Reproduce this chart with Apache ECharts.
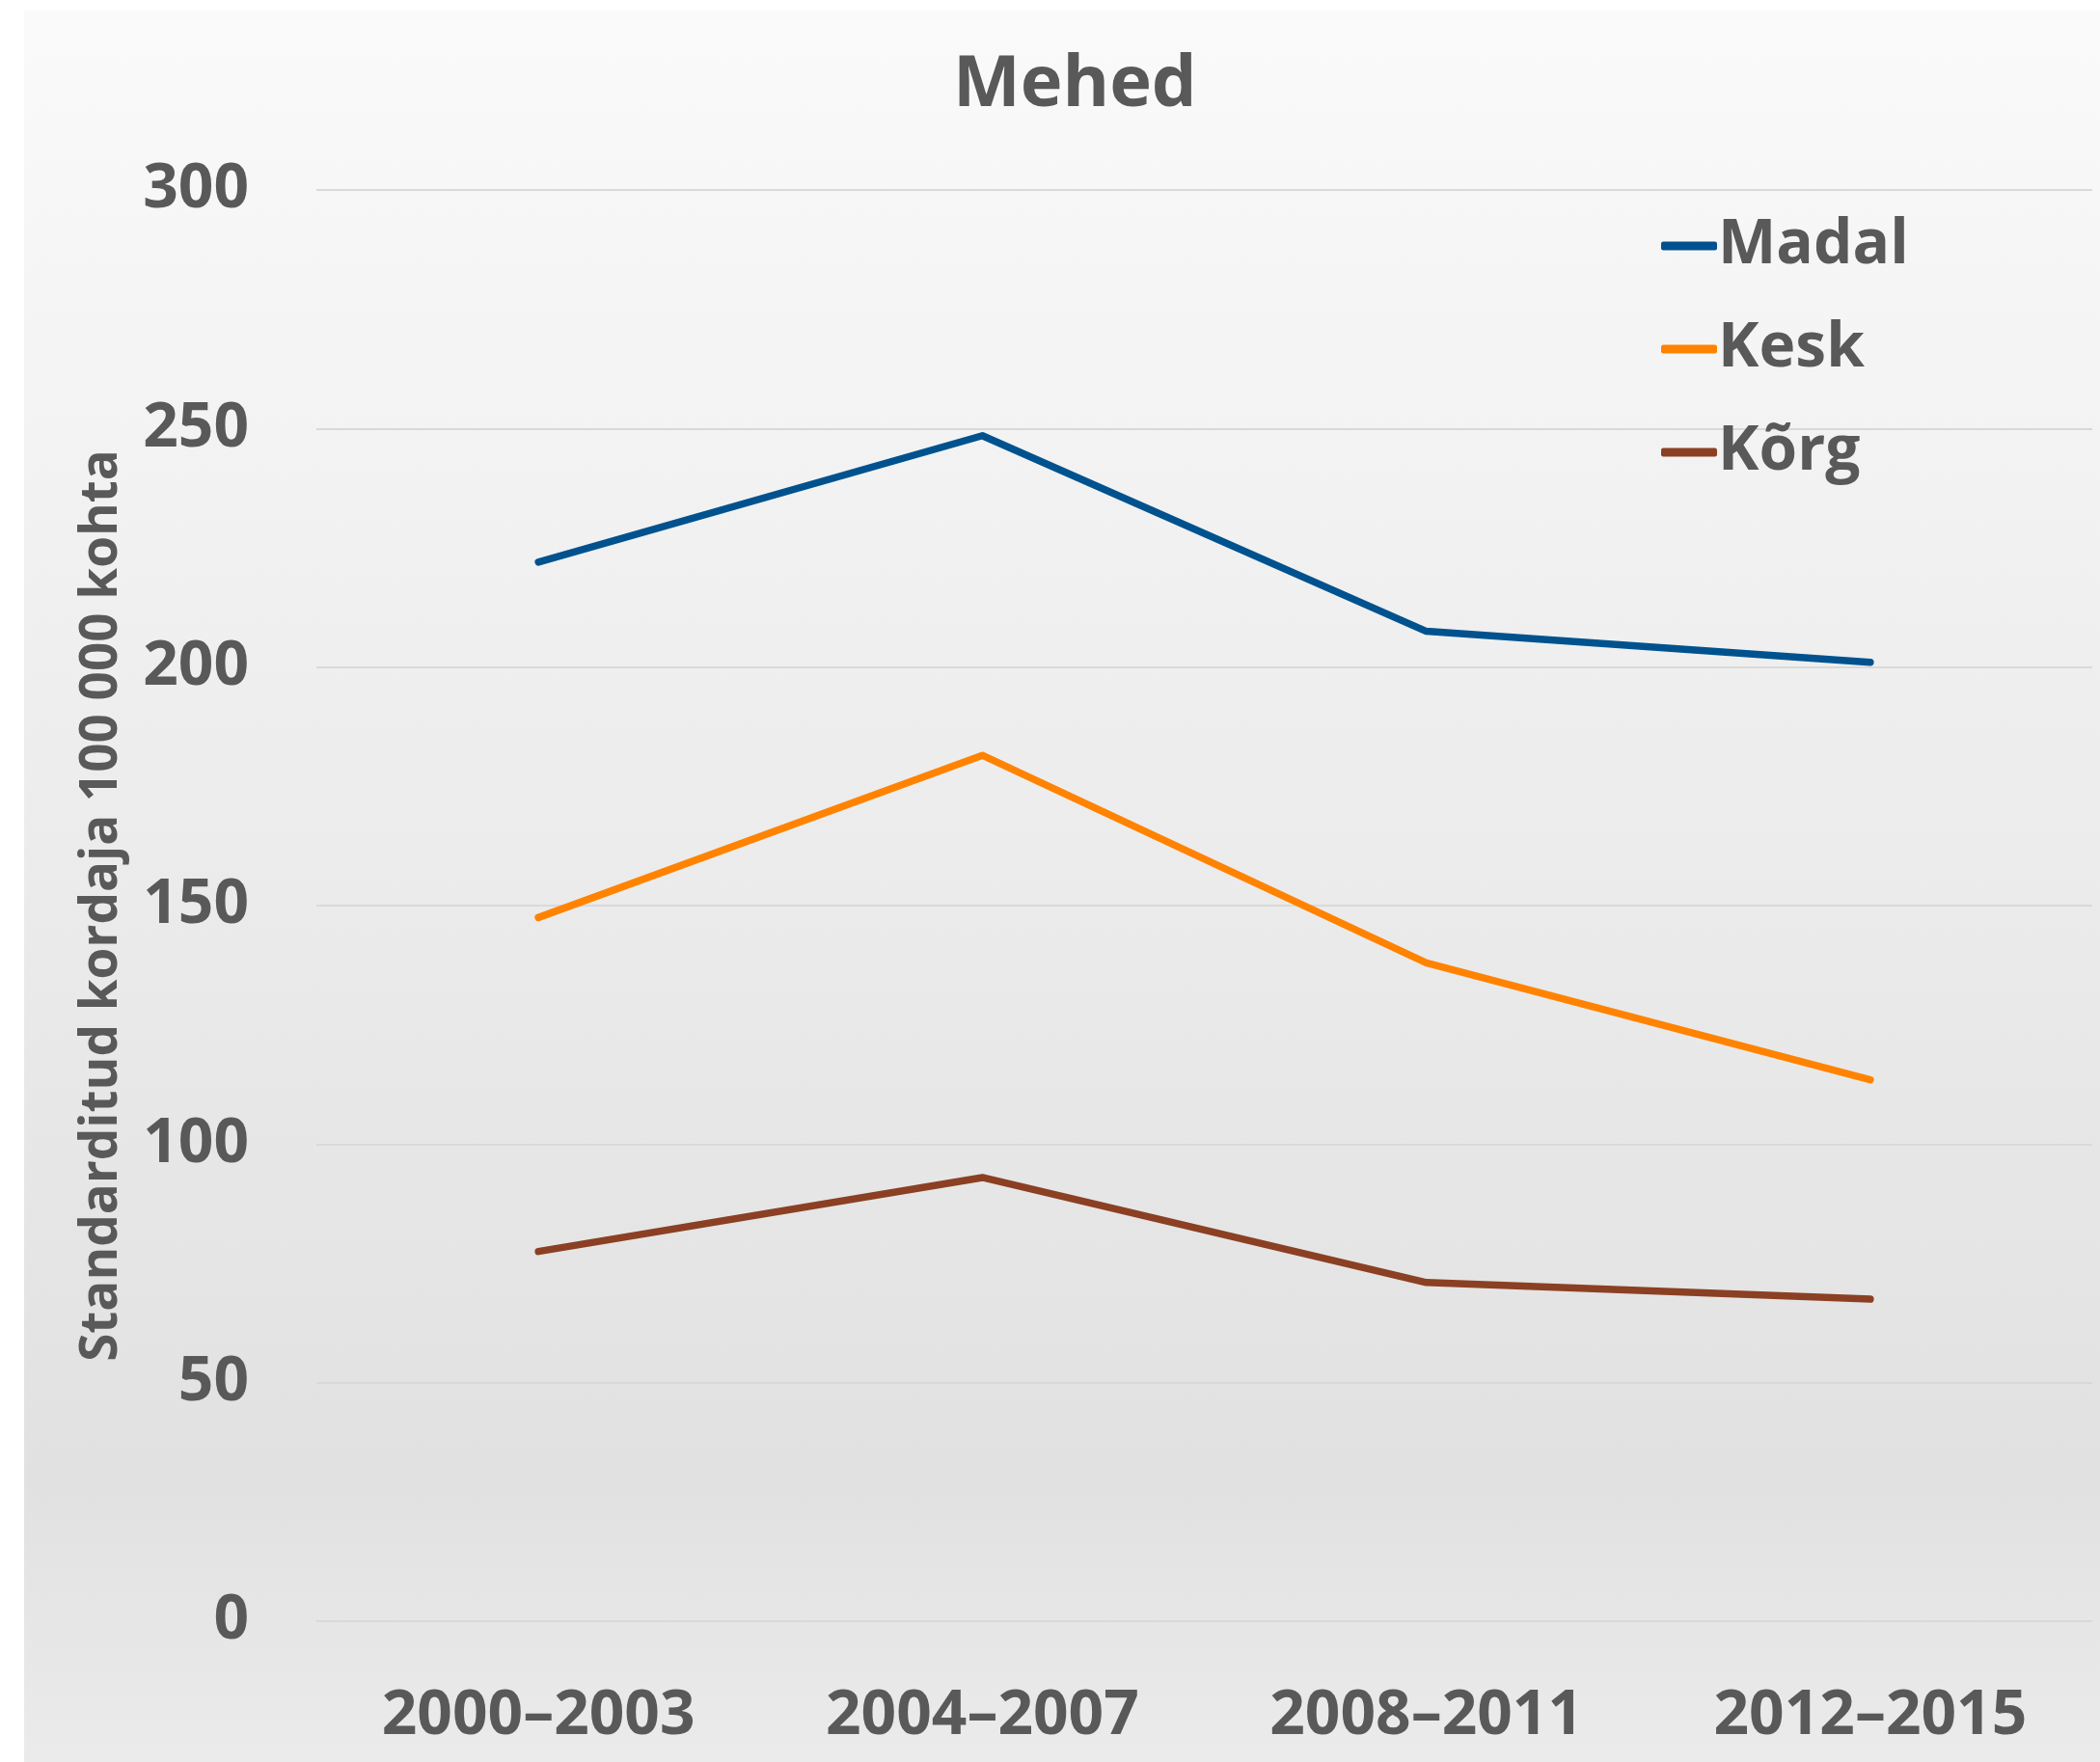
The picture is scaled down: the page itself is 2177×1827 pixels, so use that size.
<!DOCTYPE html>
<html>
<head>
<meta charset="utf-8">
<script src="https://cdn.jsdelivr.net/npm/echarts@6/dist/echarts.min.js"></script>
<style>
  html, body { margin: 0; padding: 0; background: #ffffff; }
  #chart { position: absolute; left: 25px; top: 11px; width: 2152px; height: 1816px; }
</style>
</head>
<body>
<div id="chart"></div>
<script>
const periods = ['2000–2003', '2004–2007', '2008–2011', '2012–2015']
const madal = [222, 248.5, 207.5, 201]
const kesk = [147.5, 181.5, 138, 113.5]
const korg = [77.5, 93, 71, 67.5]
const seriesNames = ['Madal', 'Kesk', 'Kõrg']
const seriesColors = ['#00528f', '#ff8300', '#8b4023']

const font = '"Open Sans", "Noto Sans", sans-serif'
const textColor = '#595959'

const chart = echarts.init(document.getElementById('chart'))

function lineSeries(name, data, color) {
  return {
    name,
    type: 'line',
    data,
    showSymbol: false,
    symbol: 'none',
    lineStyle: { color, width: 7.5, cap: 'round', join: 'round' },
    itemStyle: { color },
    animation: false,
  }
}

chart.setOption({
  animation: false,
  backgroundColor: new echarts.graphic.LinearGradient(0, 0, 0, 1, [
    { offset: 0, color: '#fafafa' },
    { offset: 0.84, color: '#e1e1e1' },
    { offset: 1, color: '#ebebeb' },
  ]),
  title: {
    text: 'Mehed',
    left: 958,
    top: 36,
    textStyle: { color: textColor, fontSize: 74, fontWeight: 'bold', fontFamily: font },
  },
  legend: {
    orient: 'vertical',
    left: 1692,
    top: 207,
    itemWidth: 58,
    itemHeight: 9,
    itemGap: 43,
    icon: 'roundRect',
    data: seriesNames,
    textStyle: { color: textColor, fontSize: 64, fontWeight: 'bold', fontFamily: font, padding: [0, 0, 0, -4] },
  },
  grid: { left: 303, right: 8, top: 186, bottom: 146 },
  xAxis: {
    type: 'category',
    data: periods,
    axisLine: { show: false },
    axisTick: { show: false },
    axisLabel: { color: textColor, fontSize: 64, fontWeight: 'bold', fontFamily: font, margin: 67 },
  },
  yAxis: {
    type: 'value',
    min: 0,
    max: 300,
    interval: 50,
    name: 'Standarditud kordaja 100 000 kohta',
    nameLocation: 'middle',
    nameGap: 196,
    nameTextStyle: { color: textColor, fontSize: 53, fontWeight: 'bold', fontFamily: font },
    axisLine: { show: false },
    axisTick: { show: false },
    axisLabel: { color: textColor, fontSize: 64, fontWeight: 'bold', fontFamily: font, margin: 70 },
    splitLine: { lineStyle: { color: '#d9d9d9', width: 2 } },
  },
  series: [
    lineSeries(seriesNames[0], madal, seriesColors[0]),
    lineSeries(seriesNames[1], kesk, seriesColors[1]),
    lineSeries(seriesNames[2], korg, seriesColors[2]),
  ],
})
</script>
</body>
</html>
